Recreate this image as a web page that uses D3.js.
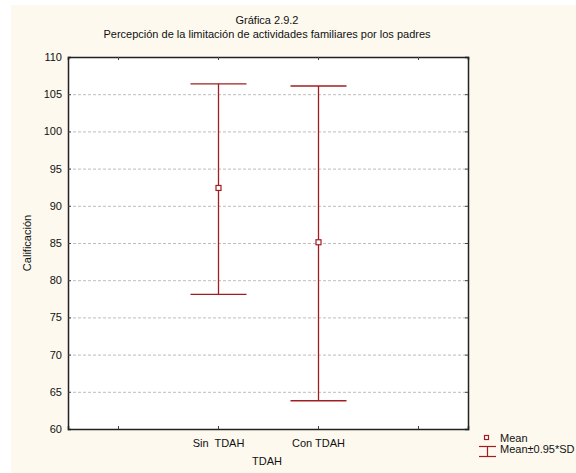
<!DOCTYPE html>
<html><head><meta charset="utf-8">
<script src="https://cdn.jsdelivr.net/npm/d3@7"></script>
<style>body{margin:0;background:#fff}svg{display:block;font-family:"Liberation Sans",Arial,sans-serif}</style>
</head><body>
<script>
const slots = ["s0", "Sin  TDAH", "Con TDAH", "s3"];
const categories = ["Sin  TDAH", "Con TDAH"];
const means = [92.4, 85.1];
const upper = [106.4, 106.1];
const lower = [78.1, 63.8];
const yTicks = [60, 65, 70, 75, 80, 85, 90, 95, 100, 105, 110];

const W = 576, H = 473;
const m = {l: 68, r: 108, t: 57, b: 44};
const svg = d3.select("body").append("svg").attr("width", W).attr("height", H);
svg.append("rect").attr("x", 11).attr("y", 5).attr("width", W - 11).attr("height", H - 5).attr("fill", "#fdf9ee");

const x = d3.scalePoint().domain(slots).range([m.l, W - m.r]).padding(0.5);
const y = d3.scaleLinear().domain([60, 110]).range([H - m.b, m.t]);

svg.append("rect").attr("x", m.l).attr("y", m.t).attr("width", W - m.r - m.l).attr("height", H - m.b - m.t).attr("fill", "#fff");

// gridlines
svg.append("g").selectAll("line").data(yTicks.filter(d => d > 60 && d < 110)).join("line")
  .attr("x1", m.l).attr("x2", W - m.r).attr("y1", d => y(d) + 0.5).attr("y2", d => y(d) + 0.5)
  .attr("stroke", "#bdbdbd").attr("stroke-dasharray", "3,2").attr("stroke-width", 1);

// axes
const yAxisL = d3.axisLeft(y).tickValues(yTicks).tickSize(-3).tickPadding(6);
const gL = svg.append("g").attr("transform", `translate(${m.l},0)`).call(yAxisL);
const gR = svg.append("g").attr("transform", `translate(${W - m.r},0)`).call(d3.axisRight(y).tickValues(yTicks).tickSize(-3).tickFormat(""));
const gB = svg.append("g").attr("transform", `translate(0,${H - m.b})`).call(d3.axisBottom(x).tickSize(-3).tickPadding(10).tickFormat(d => categories.includes(d) ? d : ""));
const gT = svg.append("g").attr("transform", `translate(0,${m.t})`).call(d3.axisTop(x).tickSize(-3).tickFormat(""));
[gL, gR, gB, gT].forEach(g => {
  g.select(".domain").attr("stroke", "#222").attr("stroke-width", 1.5);
  g.selectAll(".tick line").attr("stroke", "#444");
  g.selectAll("text").attr("fill", "#111").style("font-size", "11px").style("font-family", "Liberation Sans, Arial, sans-serif");
});
gB.selectAll("text").attr("xml:space", "preserve").style("white-space", "pre");
gL.selectAll("text").attr("dx", "0");

// error bars
const col = "#a01e22";
const cw = 28;
const g = svg.append("g");
categories.forEach((c, i) => {
  const cx = Math.round(x(c)) + 0.5;
  g.append("line").attr("x1", cx).attr("x2", cx).attr("y1", y(upper[i])).attr("y2", y(lower[i])).attr("stroke", col).attr("stroke-width", 1.3);
  g.append("line").attr("x1", cx - cw).attr("x2", cx + cw).attr("y1", y(upper[i])).attr("y2", y(upper[i])).attr("stroke", col).attr("stroke-width", 1.3);
  g.append("line").attr("x1", cx - cw).attr("x2", cx + cw).attr("y1", y(lower[i])).attr("y2", y(lower[i])).attr("stroke", col).attr("stroke-width", 1.3);
  g.append("rect").attr("x", cx - 2.5).attr("y", y(means[i]) - 2.5).attr("width", 5).attr("height", 5).attr("fill", "#fff").attr("stroke", col).attr("stroke-width", 1.2);
});

// titles
svg.append("text").attr("x", 267).attr("y", 24).attr("text-anchor", "middle").style("font-size", "11px").attr("fill", "#111").text("Gráfica 2.9.2");
svg.append("text").attr("x", 267).attr("y", 38).attr("text-anchor", "middle").style("font-size", "11px").attr("fill", "#111").text("Percepción de la limitación de actividades familiares por los padres");
svg.append("text").attr("x", 267).attr("y", 465).attr("text-anchor", "middle").style("font-size", "11px").attr("fill", "#111").text("TDAH");
svg.append("text").attr("transform", `translate(31,${(m.t + H - m.b) / 2}) rotate(-90)`).attr("text-anchor", "middle").style("font-size", "11px").attr("fill", "#111").text("Calificación");

// legend
const lg = svg.append("g");
lg.append("rect").attr("x", 484.5).attr("y", 435.5).attr("width", 4).attr("height", 4).attr("fill", "#fff").attr("stroke", col).attr("stroke-width", 1.2);
lg.append("text").attr("x", 500).attr("y", 442).style("font-size", "11px").attr("fill", "#111").text("Mean");
lg.append("line").attr("x1", 479).attr("x2", 496).attr("y1", 446.5).attr("y2", 446.5).attr("stroke", col).attr("stroke-width", 1.2);
lg.append("line").attr("x1", 479).attr("x2", 496).attr("y1", 456.5).attr("y2", 456.5).attr("stroke", col).attr("stroke-width", 1.2);
lg.append("line").attr("x1", 487.5).attr("x2", 487.5).attr("y1", 446.5).attr("y2", 456.5).attr("stroke", col).attr("stroke-width", 1.2);
lg.append("text").attr("x", 500).attr("y", 453).style("font-size", "11px").attr("fill", "#111").text("Mean±0.95*SD");
</script>
</body></html>
